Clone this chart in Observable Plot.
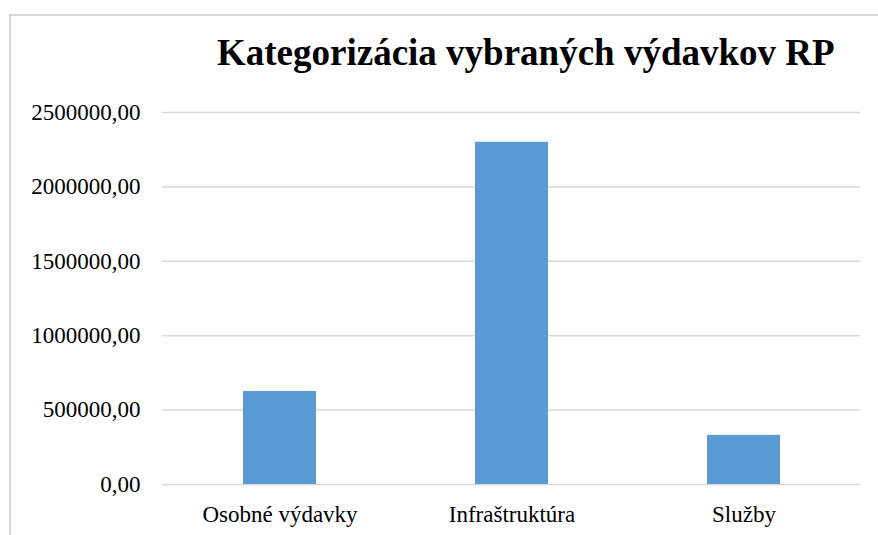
<!DOCTYPE html>
<html>
<head>
<meta charset="utf-8">
<script src="https://cdn.jsdelivr.net/npm/d3@7"></script>
<script src="https://cdn.jsdelivr.net/npm/@observablehq/plot@0.6"></script>
<style>
  html, body { margin: 0; padding: 0; background: #fff; overflow: hidden; }
  #wrap { position: relative; width: 878px; height: 535px; }
  #frame { position: absolute; left: 9px; top: 14px; width: 900px; height: 560px; border: 2px solid #d9d9d9; box-sizing: border-box; }
  #title { position: absolute; left: 217px; top: 34px; font-family: "Liberation Serif", "Times New Roman", serif; font-weight: bold; font-size: 37px; line-height: 1; color: #000; white-space: nowrap; }
  #chart { position: absolute; left: 0; top: 0; }
  #chart svg, #chart svg text { font-family: "Liberation Serif", "Times New Roman", serif !important; }
</style>
</head>
<body>
<div id="wrap">
  <div id="frame"></div>
  <div id="title">Kategorizácia vybraných výdavkov RP</div>
  <div id="chart"></div>
</div>
<script>
const categories = ["Osobné výdavky", "Infraštruktúra", "Služby"];
const values = [625000, 2300000, 330000];
const yTicks = [0, 500000, 1000000, 1500000, 2000000, 2500000];

const data = categories.map((c, i) => ({category: c, value: values[i]}));
const fmt = v => d3.format(".2f")(v).replace(".", ",");
const serif = "Liberation Serif, Times New Roman, serif";

const plot = Plot.plot({
  width: 878,
  height: 535,
  marginLeft: 162,
  marginRight: 18,
  marginTop: 112,
  marginBottom: 51,
  style: {fontFamily: serif, fontSize: "23px", color: "#000", background: "transparent"},
  x: {domain: categories, paddingInner: 0.6875, paddingOuter: 0.34375, label: null, tickSize: 0, tickPadding: 21},
  y: {domain: [0, 2500000], ticks: yTicks, tickFormat: fmt, label: null, tickSize: 0, tickPadding: 22, grid: false},
  marks: [
    Plot.gridY(yTicks, {stroke: "#d9d9d9", strokeOpacity: 1, strokeWidth: 1.5}),
    Plot.barY(data, {x: "category", y: "value", fill: "#5b9bd5"}),
    Plot.axisY(yTicks, {tickFormat: fmt, tickSize: 0, tickPadding: 22, label: null, fontSize: 23, fontFamily: serif}),
    Plot.axisX({tickSize: 0, tickPadding: 21, label: null, fontSize: 23, fontFamily: serif})
  ]
});
document.getElementById("chart").appendChild(plot);
</script>
</body>
</html>
